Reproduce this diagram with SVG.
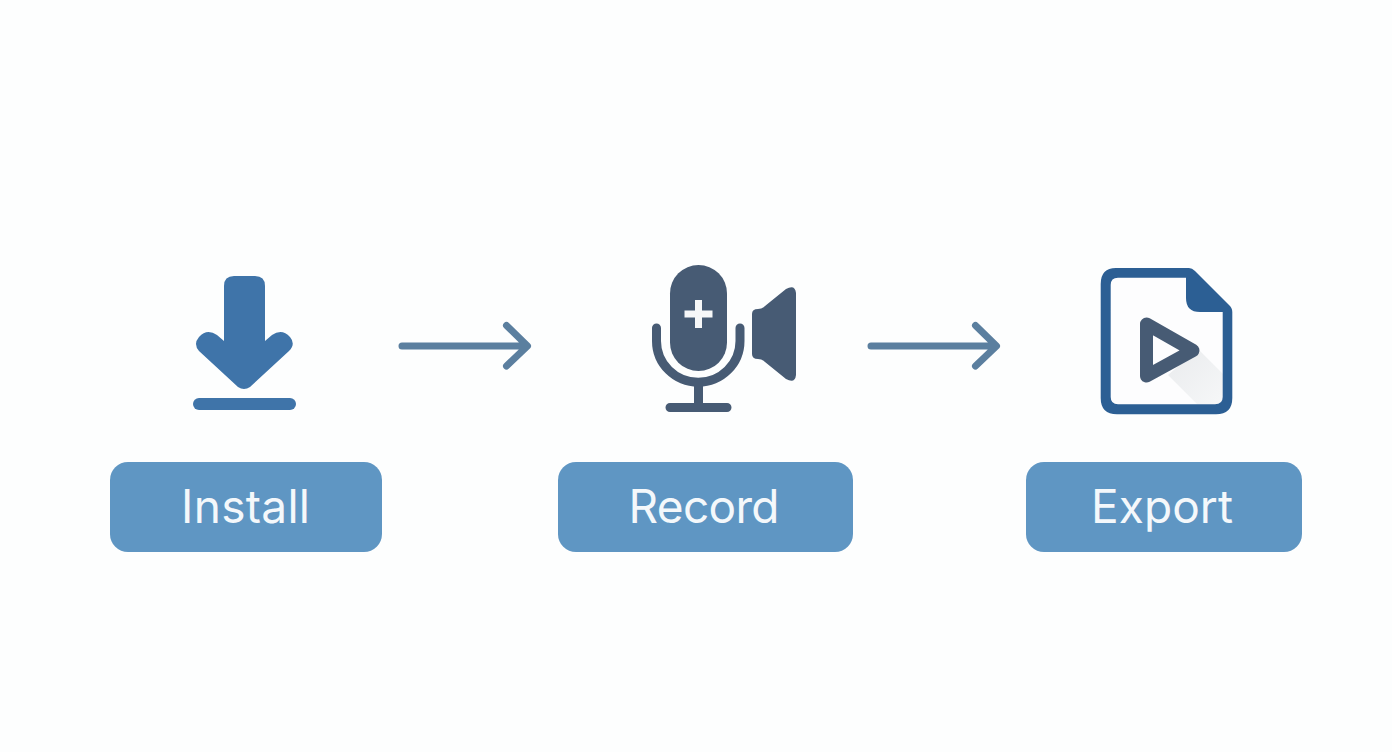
<svg xmlns="http://www.w3.org/2000/svg" width="1392" height="752" viewBox="0 0 1392 752">
<defs>
<linearGradient id="shade" x1="0" y1="0" x2="1" y2="1">
<stop offset="0" stop-color="#e9ebed"/>
<stop offset="1" stop-color="#f6f7f8"/>
</linearGradient>
<style>
.pill{fill:#5f96c3}
.lbl{font-family:"Inter","Liberation Sans",sans-serif;font-size:46px;font-weight:400;fill:#f4f8fb;text-anchor:middle}
.conn{fill:none;stroke:#5b7f9f;stroke-width:7;stroke-linecap:round;stroke-linejoin:round}
.dk{fill:#475b74}
.dks{fill:none;stroke:#475b74;stroke-width:9;stroke-linecap:round}
.bl{fill:#3f74a9}
.fl{fill:#2c5f94}
</style>
</defs>
<rect width="1392" height="752" fill="#fdfefe"/>
<g id="connectors">
<path class="conn" d="M402 346H527M506.500 325.500L527.500 346L506.500 366"/>
<path class="conn" d="M871 346H996M975.500 325.500L996.500 346L975.500 366"/>
</g>
<g id="install">
<path class="bl" d="M224 286Q224 276 234 276H255Q265 276 265 286V341L272 335Q282 328 290 337Q296 344 289 351L250 387Q244 391 238 387L199 351Q193 344 199 337Q207 328 217 335L224 341Z"/>
<rect class="bl" x="193" y="398" width="103" height="12" rx="6"/>
<rect class="pill" x="110" y="462" width="272" height="90" rx="18"/>
<text class="lbl" x="245.500" y="523" textLength="129" lengthAdjust="spacing">Install</text>
</g>
<g id="record">
<rect class="dk" x="670" y="265" width="57" height="106" rx="28.500"/>
<path d="M688 314H709M698.500 303.500V324.500" fill="none" stroke="#f6f7f8" stroke-width="7" stroke-linecap="square"/>
<path class="dks" d="M656.500 328V341A41.500 41 0 0 0 740 341V328"/>
<path class="dks" d="M698.500 383V407M670 407.500H727"/>
<path class="dk" d="M752 314Q752 309 758 309Q762 309 765 306L786 289Q795 284 796 293V375Q795 384 786 379L765 362Q762 359 758 359Q752 359 752 354Z"/>
<rect class="pill" x="558" y="462" width="295" height="90" rx="18"/>
<text class="lbl" x="704" y="523" textLength="151" lengthAdjust="spacing">Record</text>
</g>
<g id="export">
<path d="M1106 273H1190L1227 310V402Q1227 409 1220 409H1113Q1106 409 1106 402Z" fill="#fdfdfe"/>
<path d="M1198 349L1223 374V404H1197L1168 375Z" fill="url(#shade)"/>
<path class="fl" fill-rule="evenodd" d="M1116 268H1189Q1192 268 1195 271L1229 305Q1232.300 308 1232.300 312V398Q1232.300 414.300 1216 414.300H1117Q1100.700 414.300 1100.700 398V284Q1100.700 268 1116 268ZM1118 277.700Q1110.700 277.700 1110.700 285V397Q1110.700 404.300 1118 404.300H1215Q1222.700 404.300 1222.700 397V312H1200Q1186 312 1186 298V277.700Z"/>
<path d="M1146.500 324L1193 350.500L1146.500 376Z" fill="none" stroke="#475b74" stroke-width="13" stroke-linejoin="round"/>
<rect class="pill" x="1026" y="462" width="276" height="90" rx="18"/>
<text class="lbl" x="1162" y="523" textLength="142" lengthAdjust="spacing">Export</text>
</g>
</svg>
